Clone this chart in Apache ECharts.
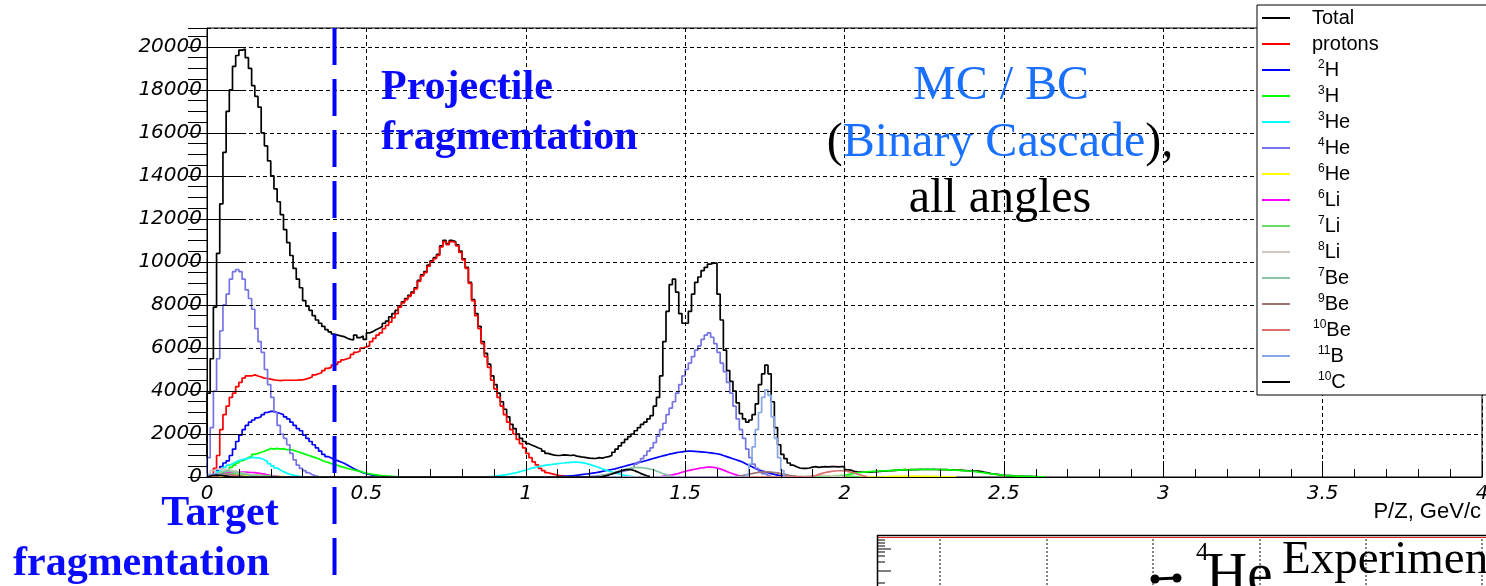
<!DOCTYPE html>
<html>
<head>
<meta charset="utf-8">
<style>
  html, body { margin: 0; padding: 0; background: #ffffff; }
  #chart { width: 1486px; height: 586px; }
</style>
<script src="https://cdn.jsdelivr.net/npm/echarts@6.0.0/dist/echarts.min.js"></script>
</head>
<body>
<div id="chart"></div>
<script>
// P/Z spectra per fragment, 0.01 GeV/c bins. Each series is a list of
// [first bin lower edge, counts per bin] segments.
const BIN = 0.01;

const totalSeg = [[0.00, [
  3900, 5500, 7900, 10400, 12700, 15100, 17000, 18000, 19100, 19600,
  19850, 19900, 19500, 19000, 18200, 17700, 17200, 16000, 15400, 14700,
  14000, 13400, 12800, 12200, 11500, 10900, 10300, 9700, 9200, 8800,
  8200, 7950, 7750, 7500, 7300, 7150, 7000, 6850, 6750, 6650,
  6600, 6560, 6530, 6450, 6400, 6380, 6600, 6480, 6560, 6400,
  6700, 6760, 6850, 6920, 7000, 7150, 7250, 7450, 7600, 7750,
  7950, 8150, 8300, 8450, 8600, 8800, 9150, 9400, 9550, 9850,
  10050, 10200, 10350, 10750, 11000, 10850, 11000, 10950, 10800, 10500,
  10150, 9750, 9050, 8250, 7600, 7000, 6300, 5750, 5250, 4700,
  4300, 3900, 3500, 3150, 2800, 2450, 2250, 2000, 1800, 1650,
  1550, 1480, 1420, 1350, 1300, 1200, 1100, 1050, 1020, 1000,
  1010, 1030, 1020, 1000, 1020, 970, 950, 920, 900, 880,
  870, 860, 900, 880, 920, 950, 1000, 1150, 1300, 1450,
  1600, 1750, 1880, 2000, 2150, 2300, 2450, 2550, 2700, 2850,
  3300, 3700, 4700, 6300, 7700, 8950, 9200, 8600, 7600, 7150,
  7150, 7700, 8500, 9050, 9300, 9600, 9750, 9900, 9950, 9950,
  8500, 7300, 5900, 4950, 4450, 4000, 3450, 2950, 2700, 2550,
  2650, 2900, 3400, 4300, 4800, 5200, 4800, 3500, 2300, 1500,
  1050, 850, 650, 550, 480, 420, 400, 400, 420, 460,
  480, 450, 470, 480, 470, 480, 480, 470, 480, 480,
  330, 320, 260, 240, 230, 220, 230, 220, 240, 250,
  260, 270, 280, 290, 300, 310, 320, 330, 340, 330,
  340, 350, 340, 360, 350, 360, 350, 360, 350, 340,
  350, 340, 330, 330, 320, 320, 310, 300, 290, 290,
  280, 270, 250, 220, 190, 160, 140, 120, 100, 85,
  70, 60, 50, 45, 40, 35, 30, 25, 20, 15,
  10, 5, 5
]]];

const protonSeg = [[0.00, [
  0, 0, 400, 1000, 2200, 2900, 3300, 3700, 3900, 4200,
  4400, 4600, 4700, 4700, 4750, 4700, 4650, 4600, 4580, 4550,
  4520, 4500, 4480, 4500, 4500, 4500, 4500, 4500, 4520, 4520,
  4550, 4600, 4650, 4750, 4800, 4850, 4950, 5050, 5100, 5200,
  5250, 5350, 5450, 5500, 5550, 5700, 5800, 5850, 6000, 6050,
  6100, 6300, 6450, 6600, 6700, 6900, 7050, 7200, 7400, 7600,
  7900, 8100, 8250, 8400, 8550, 8750, 9100, 9350, 9500, 9800,
  10000, 10150, 10300, 10700, 10950, 10800, 10950, 10900, 10750, 10450,
  10100, 9700, 9000, 8200, 7500, 6900, 6200, 5600, 5100, 4500,
  4100, 3700, 3300, 2900, 2550, 2200, 2000, 1750, 1550, 1350,
  1100, 900, 700, 560, 400, 300, 200, 160, 120, 90,
  60, 40, 20, 10
]]];

const deuteronSeg = [
  [0.00, [
    0, 50, 150, 300, 480, 650, 750, 1000, 1300, 1650,
    1950, 2200, 2400, 2550, 2650, 2750, 2800, 2900, 3000, 3050,
    3050, 3000, 2950, 2900, 2800, 2700, 2550, 2400, 2250, 2150,
    1950, 1800, 1650, 1500, 1350, 1200, 1050, 950, 880, 800,
    760, 700, 640, 560, 480, 400, 330, 260, 200, 160,
    120, 90, 60, 40, 20, 10
  ]],
  [1.05, [
    10, 10, 10, 10, 10, 20, 30, 40, 50, 60,
    80, 100, 120, 140, 160, 180, 200, 230, 260, 290,
    320, 350, 380, 420, 460, 500, 540, 580, 620, 650,
    690, 730, 770, 820, 860, 900, 940, 980, 1020, 1060,
    1090, 1120, 1150, 1170, 1190, 1200, 1200, 1190, 1180, 1170,
    1160, 1140, 1120, 1100, 1080, 1050, 1000, 950, 900, 850,
    800, 750, 700, 620, 550, 480, 400, 340, 290, 250,
    200, 160, 120, 90, 60, 40, 20, 10
  ]]
];

const tritonSeg = [
  [0.00, [
    0, 20, 60, 120, 200, 280, 350, 450, 550, 650,
    750, 820, 900, 950, 1050, 1100, 1150, 1200, 1260, 1330,
    1300, 1330, 1300, 1320, 1270, 1280, 1250, 1200, 1150, 1100,
    1050, 1000, 950, 900, 850, 780, 720, 680, 620, 580,
    540, 480, 450, 400, 360, 330, 300, 260, 220, 180,
    150, 120, 100, 80, 60, 50, 40, 30, 20, 10,
    5
  ]],
  [1.95, [
    0, 20, 40, 60, 80, 110, 140, 170, 190, 210,
    230, 240, 250, 260, 270, 280, 285, 290, 300, 310,
    320, 320, 330, 340, 330, 340, 350, 340, 360, 350,
    360, 350, 360, 350, 340, 350, 340, 330, 320, 320,
    310, 300, 290, 280, 270, 250, 230, 210, 190, 170,
    150, 130, 110, 95, 80, 70, 60, 50, 45, 40,
    35, 30, 25, 20, 15, 10, 5, 5
  ]]
];

const he3Seg = [
  [0.00, [
    0, 50, 150, 250, 350, 450, 550, 620, 700, 760,
    800, 840, 870, 900, 900, 890, 860, 800, 720, 620,
    520, 420, 330, 250, 180, 130, 90, 60, 30, 10
  ]],
  [0.86, [
    0, 10, 20, 30, 50, 70, 90, 110, 140, 170,
    200, 240, 280, 320, 370, 410, 450, 480, 510, 540,
    560, 580, 600, 620, 640, 650, 670, 680, 690, 690,
    680, 660, 630, 590, 540, 490, 440, 380, 330, 280,
    230, 190, 150, 110, 80, 50, 30, 10
  ]]
];

const he4Seg = [
  [0.00, [
    900, 2300, 4000, 5500, 6800, 8000, 8500, 9200, 9550, 9650,
    9550, 9200, 8700, 8300, 7800, 6900, 6300, 5800, 5000, 4300,
    3700, 3000, 2400, 2000, 1800, 1500, 1100, 800, 550, 400,
    300, 200, 120, 60, 20
  ]],
  [1.18, [
    10, 20, 30, 40, 60, 80, 100, 120, 150, 180,
    210, 240, 280, 320, 380, 450, 600, 700, 850, 1000,
    1200, 1350, 1600, 1900, 2200, 2500, 2900, 3200, 3500, 3900,
    4300, 4700, 5000, 5300, 5600, 5900, 6100, 6400, 6600, 6700,
    6500, 6200, 5800, 5300, 4900, 4400, 3900, 3300, 2700, 2200,
    1800, 1300, 900, 600, 400, 250, 150, 80, 30
  ]]
];

const he6Seg = [
  [0.02, [
    10, 30, 50, 70, 80, 90, 90, 100, 100, 100,
    100, 95, 90, 90, 80, 80, 70, 60, 50, 40,
    30, 20, 10
  ]],
  [2.12, [
    10, 20, 25, 30, 30, 35, 35, 40, 40, 40,
    40, 35, 35, 30, 30, 25, 20, 20, 15, 10,
    10, 5, 5
  ]]
];

const li6Seg = [
  [0.01, [
    20, 50, 100, 150, 180, 200, 220, 230, 240, 230,
    230, 220, 210, 200, 180, 160, 130, 100, 70, 50,
    30, 10
  ]],
  [1.40, [
    0, 10, 30, 50, 80, 100, 130, 170, 220, 260,
    300, 330, 360, 390, 420, 440, 460, 460, 450, 420,
    380, 320, 260, 200, 150, 100, 60, 30, 10
  ]]
];

const li7Seg = [
  [0.01, [
    20, 50, 90, 120, 140, 150, 150, 150, 140, 130,
    120, 110, 100, 90, 80, 70, 60, 50, 40, 30,
    20, 10
  ]],
  [1.90, [
    10, 20, 30, 40, 50, 50, 60, 60, 60, 50,
    50, 40, 30, 20, 10
  ]]
];

const li8Seg = [
  [0.00, [
    150, 300, 360, 380, 370, 350, 330, 300, 270, 240,
    200, 170, 140, 110, 80, 60, 40, 20, 10
  ]],
  [1.84, [
    10, 20, 30, 40, 50, 60, 70, 70, 70, 70,
    60, 50, 40, 30, 20, 10
  ]]
];

const be7Seg = [
  [0.01, [
    60, 150, 220, 260, 270, 260, 240, 220, 200, 170,
    140, 110, 80, 60, 40, 20, 10
  ]],
  [1.20, [
    0, 20, 40, 70, 100, 140, 180, 220, 260, 300,
    340, 380, 410, 440, 450, 440, 420, 400, 370, 330,
    280, 220, 160, 110, 60, 30
  ]]
];

const be9Seg = [
  [0.01, [
    30, 60, 90, 110, 120, 110, 100, 80, 60, 40,
    20, 10
  ]],
  [1.64, [
    0, 20, 40, 70, 100, 130, 160, 190, 210, 230,
    240, 240, 230, 210, 190, 160, 130, 100, 70, 50,
    30, 20, 10
  ]]
];

const be10Seg = [
  [0.01, [
    20, 50, 70, 80, 80, 70, 60, 40, 20, 10
  ]],
  [1.88, [
    0, 30, 70, 120, 170, 210, 240, 260, 280, 290,
    290, 280, 260, 230, 190, 140, 90, 50, 20
  ]]
];

const b11Seg = [
  [0.00, [
    100, 150, 150, 120, 90, 60, 30, 10
  ]],
  [1.68, [
    0, 100, 600, 1400, 2200, 3000, 3700, 4050, 3800, 2800,
    1800, 900, 300
  ]]
];

const c10Seg = [
  [0.00, [
    40, 80, 90, 80, 60, 40, 20, 10
  ]],
  [1.22, [
    0, 20, 50, 90, 140, 190, 240, 290, 330, 350,
    340, 300, 240, 170, 110, 60, 20
  ]]
];

const seriesNames = ['Total', 'protons', '2H', '3H', '3He', '4He', '6He', '6Li',
                     '7Li', '8Li', '7Be', '9Be', '10Be', '11B', '10C'];
const seriesSegs = [totalSeg, protonSeg, deuteronSeg, tritonSeg, he3Seg, he4Seg, he6Seg, li6Seg,
                    li7Seg, li8Seg, be7Seg, be9Seg, be10Seg, b11Seg, c10Seg];
const seriesColors = ['#000000', '#ff0000', '#0000ff', '#00ff00', '#00ffff', '#7474e6', '#ffff00', '#ff00ff',
                      '#66dd66', '#cfc6bd', '#86c6a2', '#a07272', '#dd6e6e', '#86a8e4', '#000000'];
// isotope legend labels: [mass number, element symbol]
const legendIso = {
  '2H': ['2', 'H'], '3H': ['3', 'H'], '3He': ['3', 'He'], '4He': ['4', 'He'], '6He': ['6', 'He'],
  '6Li': ['6', 'Li'], '7Li': ['7', 'Li'], '8Li': ['8', 'Li'], '7Be': ['7', 'Be'], '9Be': ['9', 'Be'],
  '10Be': ['10', 'Be'], '11B': ['11', 'B'], '10C': ['10', 'C']
};

const X_MIN = 0, X_MAX = 4, X_STEP = 0.5;
const Y_MIN = 0, Y_MAX = 20880, Y_STEP = 2000, Y_MINOR = 500;
const X_TITLE = 'P/Z, GeV/c';

// histogram outline points for a step line (value held until next edge)
function histPoints(segments) {
  const pts = [];
  segments.forEach(([start, vals]) => {
    pts.push([start, 0]);
    vals.forEach((v, i) => pts.push([+(start + i * BIN).toFixed(4), v]));
    pts.push([+(start + vals.length * BIN).toFixed(4), 0]);
  });
  return pts;
}

const chart = echarts.init(document.getElementById('chart'), null, { renderer: 'canvas' });

const axisFont = { fontFamily: 'DejaVu Sans', fontStyle: 'italic', fontSize: 20, color: '#000' };
const dashGrid = { show: true, lineStyle: { color: '#000', width: 1, type: [4, 3] } };

const option = {
  animation: false,
  backgroundColor: '#ffffff',
  grid: {
    left: 207, top: 28, right: 4, bottom: 109,
    show: true, borderColor: '#000', borderWidth: 1, backgroundColor: 'transparent',
    containLabel: false, outerBoundsMode: 'none'
  },
  xAxis: {
    type: 'value', min: X_MIN, max: X_MAX, interval: X_STEP, z: 3,
    axisLine: { show: true, onZero: false, lineStyle: { color: '#000', width: 1 } },
    axisTick: { show: true, inside: true, length: 16, lineStyle: { color: '#000' } },
    minorTick: { show: true, splitNumber: 5, length: 8, lineStyle: { color: '#000' } },
    axisLabel: Object.assign({ margin: 7, showMaxLabel: true, showMinLabel: true, hideOverlap: false,
                               formatter: v => String(+v.toFixed(2)) }, axisFont),
    splitLine: dashGrid
  },
  yAxis: [
    {
      type: 'value', min: Y_MIN, max: Y_MAX, interval: Y_STEP, z: 3,
      axisLine: { show: true, onZero: false, lineStyle: { color: '#000', width: 1 } },
      axisTick: { show: true, inside: true, length: 38, lineStyle: { color: '#000' } },
      axisLabel: Object.assign({ margin: 5, showMaxLabel: false, hideOverlap: false,
                                 formatter: v => String(Math.round(v)) }, axisFont),
      splitLine: dashGrid
    },
    {
      type: 'value', min: Y_MIN, max: Y_MAX, interval: Y_MINOR, z: 3,
      axisLine: { show: false },
      axisTick: { show: true, inside: true, length: 19, lineStyle: { color: '#000' } },
      axisLabel: { show: false },
      splitLine: { show: false }
    }
  ],
  legend: {
    orient: 'vertical', left: 1257, top: 5, padding: [2, 300, 2, 5],
    itemWidth: 28, itemHeight: 2, itemGap: 4, icon: 'rect',
    backgroundColor: '#ffffff', borderColor: '#000', borderWidth: 1, borderRadius: 0,
    selectedMode: false,
    data: seriesNames,
    formatter: name => {
      const iso = legendIso[name];
      if (!iso) return name;
      return (iso[0] === '10' && iso[1] === 'Be')
        ? '{sw|' + iso[0] + '}{n|' + iso[1] + '}'
        : '{s|' + iso[0] + '}{n|' + iso[1] + '}';
    },
    textStyle: {
      fontFamily: 'Liberation Sans', fontSize: 20, color: '#000', lineHeight: 22,
      padding: [0, 0, 0, 17],
      rich: {
        s: { fontFamily: 'Liberation Sans', fontSize: 12, lineHeight: 11, verticalAlign: 'top', color: '#000', padding: [0, 0, 0, 6] },
        sw: { fontFamily: 'Liberation Sans', fontSize: 12, lineHeight: 11, verticalAlign: 'top', color: '#000', padding: [0, 0, 0, 1] },
        n: { fontFamily: 'Liberation Sans', fontSize: 20, lineHeight: 22, color: '#000' }
      }
    }
  },
  series: seriesNames.map((name, i) => ({
    name: name,
    type: 'line',
    step: 'end',
    symbol: 'none',
    silent: true,
    data: histPoints(seriesSegs[i]),
    lineStyle: { color: seriesColors[i], width: 1.7 },
    itemStyle: { color: seriesColors[i] },
    emphasis: { disabled: true },
    z: 2
  }))
};

chart.setOption(option);

// annotations placed after the axes exist
const cutX = chart.convertToPixel({ xAxisIndex: 0 }, 0.4);
const axisRight = chart.convertToPixel({ xAxisIndex: 0 }, X_MAX);
const axisBottom = chart.convertToPixel({ yAxisIndex: 0 }, Y_MIN);
const serif = '"Liberation Serif", "Times New Roman", serif';
const blue = '#0a0aff';
const lightBlue = '#1a70ff';

function txt(x, y, text, size, weight, fill, align) {
  return {
    type: 'text', z: 20, silent: true,
    style: {
      x: x, y: y, text: text, fill: fill,
      font: (weight || 'normal') + ' ' + size + 'px ' + serif,
      align: align || 'left', verticalAlign: 'middle',
      textAlign: align || 'left', textVerticalAlign: 'middle'
    }
  };
}

const graphics = [
  {
    type: 'line', z: 15, silent: true,
    shape: { x1: cutX, y1: 28, x2: cutX, y2: 586 },
    style: { stroke: '#0000ff', lineWidth: 4, lineDash: [37, 14] }
  },
  // x axis title, right-aligned under the axis end
  {
    type: 'text', z: 20, silent: true,
    style: {
      x: axisRight - 1, y: axisBottom + 35, text: X_TITLE, fill: '#000',
      font: '22px "Liberation Sans", Arial, sans-serif',
      align: 'right', verticalAlign: 'middle', textAlign: 'right', textVerticalAlign: 'middle'
    }
  },
  txt(381, 88, 'Projectile', 42, 'bold', blue),
  txt(381, 138, 'fragmentation', 42, 'bold', blue),
  txt(220, 514, 'Target', 42, 'bold', blue, 'center'),
  txt(13, 564, 'fragmentation', 42, 'bold', blue),
  txt(1001, 86, 'MC / BC', 48, 'normal', lightBlue, 'center'),
  {
    type: 'text', z: 20, silent: true,
    style: {
      x: 1000, y: 143, align: 'center', verticalAlign: 'middle',
      textAlign: 'center', textVerticalAlign: 'middle',
      text: '{k|(}{b|Binary Cascade}{k|),}',
      rich: {
        k: { fontFamily: 'Liberation Serif', fontSize: 48, fill: '#000', color: '#000' },
        b: { fontFamily: 'Liberation Serif', fontSize: 48, fill: lightBlue, color: lightBlue }
      }
    }
  },
  txt(1000, 199, 'all angles', 48, 'normal', '#000', 'center'),

  // lower panel edge (next figure)
  { type: 'line', z: 5, silent: true, shape: { x1: 877, y1: 535.5, x2: 1486, y2: 535.5 }, style: { stroke: '#000', lineWidth: 1.5 } },
  { type: 'line', z: 5, silent: true, shape: { x1: 878, y1: 537.5, x2: 1486, y2: 537.5 }, style: { stroke: '#e02020', lineWidth: 1 } },
  { type: 'line', z: 5, silent: true, shape: { x1: 877.5, y1: 535, x2: 877.5, y2: 586 }, style: { stroke: '#000', lineWidth: 1.5 } }
];

[540, 543, 546, 549, 552, 556, 562, 571, 583].forEach((y, i) => {
  graphics.push({ type: 'line', z: 5, silent: true,
    shape: { x1: 877, y1: y, x2: (i % 4 === 3) ? 891 : 885, y2: y },
    style: { stroke: '#000', lineWidth: 1 } });
});
[940, 1047, 1153, 1260, 1366, 1482].forEach(x => {
  graphics.push({ type: 'line', z: 5, silent: true,
    shape: { x1: x, y1: 539, x2: x, y2: 586 },
    style: { stroke: '#333', lineWidth: 1.2, lineDash: [2, 2] } });
});
graphics.push(
  { type: 'line', z: 6, silent: true, shape: { x1: 1155, y1: 579, x2: 1177, y2: 578 }, style: { stroke: '#000', lineWidth: 3 } },
  { type: 'circle', z: 6, silent: true, shape: { cx: 1155, cy: 579, r: 4.5 }, style: { fill: '#000' } },
  { type: 'circle', z: 6, silent: true, shape: { cx: 1177, cy: 578, r: 4.5 }, style: { fill: '#000' } },
  {
    type: 'text', z: 6, silent: true,
    style: { x: 1196, y: 541, text: '4', fill: '#000', font: '25px ' + serif,
             align: 'left', verticalAlign: 'top', textAlign: 'left', textVerticalAlign: 'top' }
  },
  txt(1206, 577, 'He', 57, 'normal', '#000'),
  txt(1282, 561, 'Experiment', 47, 'normal', '#000')
);

chart.setOption({ graphic: graphics });
</script>
</body>
</html>
